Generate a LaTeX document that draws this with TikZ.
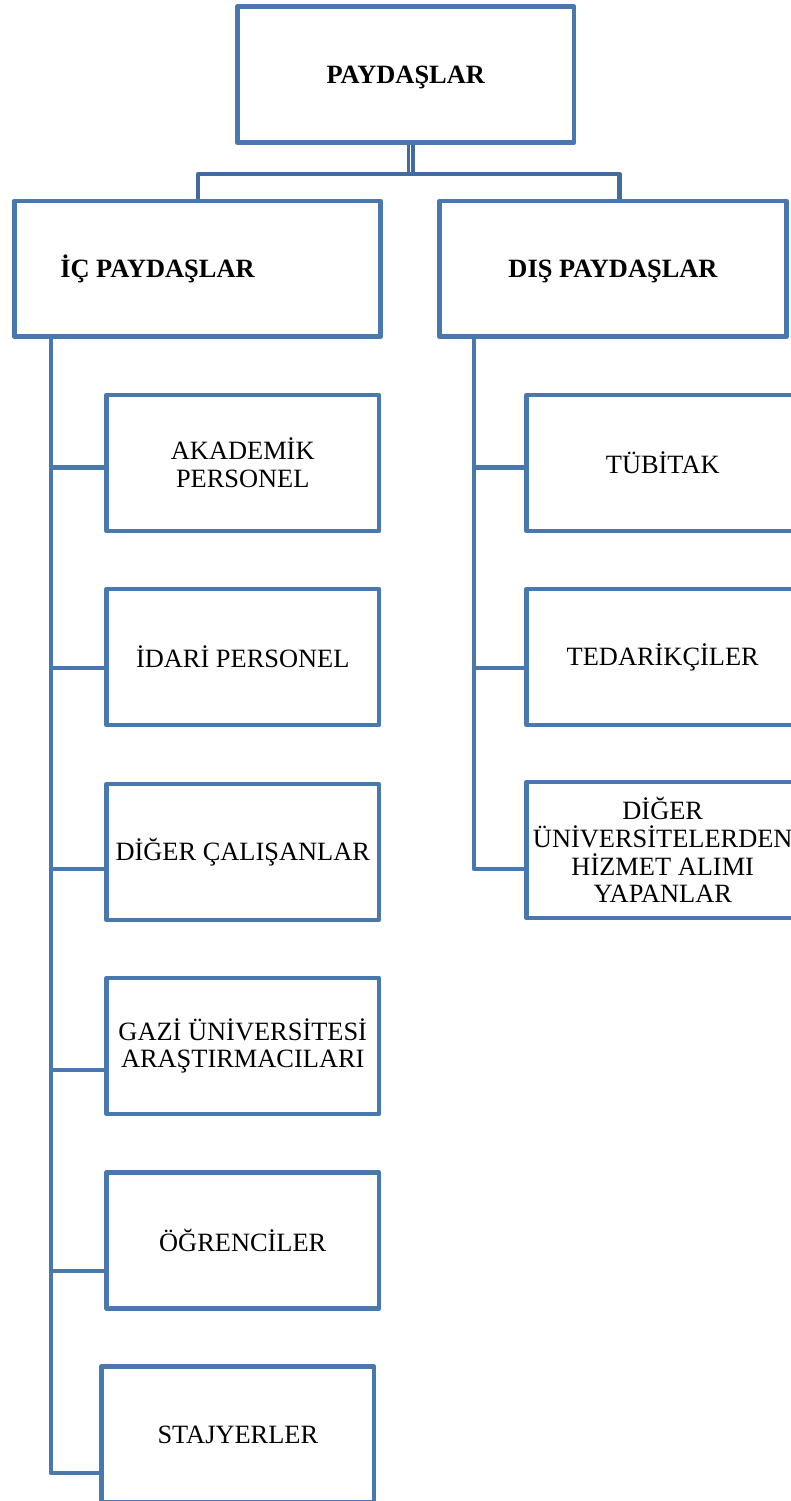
\documentclass[tikz,border=0pt]{standalone}
\usepackage{fontspec}
\setmainfont{Liberation Serif}
\definecolor{boxblue}{RGB}{73,120,175}
\definecolor{linkblue}{RGB}{66,108,160}
\begin{document}
\begin{tikzpicture}[x=1pt,y=-1pt,
  box/.style={draw=boxblue, line width=4.8pt, line join=round, rectangle, inner sep=0pt,
    align=center, font=\fontsize{26.4}{27.8}\selectfont, fill=white},
  head/.style={font=\fontsize{26.4}{27.8}\selectfont\bfseries, text depth=0pt},
  link/.style={draw=boxblue, line width=4.8pt, line join=round},
  toplink/.style={draw=linkblue, line width=4.8pt, line join=round}]
\clip (0,0) rectangle (791,1501);
\useasboundingbox (0,0) rectangle (791,1501);

% top box
\node[box, minimum width=336.5pt, minimum height=136pt, head] (top) at (405.75,74.5) {PAYDAŞLAR};

% header boxes
\node[box, minimum width=366.2pt, minimum height=135.5pt] (ic) at (197.4,268.75) {};
\node[head, inner sep=0pt, anchor=base] (ictext) at (157.5,277.3) {İÇ PAYDAŞLAR};
\node[box, minimum width=347pt, minimum height=135.5pt, head] (dis) at (613,268.75) {DIŞ PAYDAŞLAR};

% connectors from top
\coordinate (bar) at (410.8,174);
\coordinate (barL) at (198,174);
\coordinate (barR) at (619.5,174);
\draw[draw=linkblue, line width=3.6pt, double=white, double distance=1pt] (top.south -| bar) -- (bar);
\draw[toplink] (barL |- ic.north) -- (barL) -- (barR) -- (barR |- dis.north);

% left children
\node[box, minimum width=272.5pt, minimum height=136pt] (l1) at (242.75,463) {AKADEMİK\\PERSONEL};
\node[box, minimum width=272.5pt, minimum height=136pt] (l2) at (242.75,657) {İDARİ PERSONEL};
\node[box, minimum width=272.5pt, minimum height=136pt] (l3) at (242.75,852) {DİĞER ÇALIŞANLAR};
\node[box, minimum width=272.5pt, minimum height=136pt] (l4) at (242.75,1046) {GAZİ ÜNİVERSİTESİ\\ARAŞTIRMACILARI};
\node[box, minimum width=272.5pt, minimum height=136pt] (l5) at (242.75,1240.5) {ÖĞRENCİLER};
\node[box, minimum width=272.3pt, minimum height=136pt] (l6) at (237.85,1434.5) {STAJYERLER};

% right children
\node[box, minimum width=272.5pt, minimum height=136pt] (r1) at (662.75,463) {TÜBİTAK};
\node[box, minimum width=272.5pt, minimum height=136pt] (r2) at (662.75,657) {TEDARİKÇİLER};
\node[box, minimum width=272.5pt, minimum height=136pt] (r3) at (662.75,850) {DİĞER\\ÜNİVERSİTELERDEN\\HİZMET ALIMI\\YAPANLAR};

% left spine
\coordinate (sl) at (51,0);
\coordinate (lt1) at (51,467.5);
\coordinate (lt2) at (51,668);
\coordinate (lt3) at (51,869);
\coordinate (lt4) at (51,1070);
\coordinate (lt5) at (51,1271);
\coordinate (lt6) at (51,1473);
\draw[link] (ic.south -| sl) -- (lt6) -- (lt6 -| l6.west);
\foreach \i in {1,...,5} \draw[link] (lt\i) -- (lt\i -| l\i.west);

% right spine
\coordinate (sr) at (474,0);
\coordinate (rt1) at (474,467.5);
\coordinate (rt2) at (474,668);
\coordinate (rt3) at (474,869);
\draw[link] (dis.south -| sr) -- (rt3) -- (rt3 -| r3.west);
\foreach \i in {1,2} \draw[link] (rt\i) -- (rt\i -| r\i.west);
\end{tikzpicture}
\end{document}
